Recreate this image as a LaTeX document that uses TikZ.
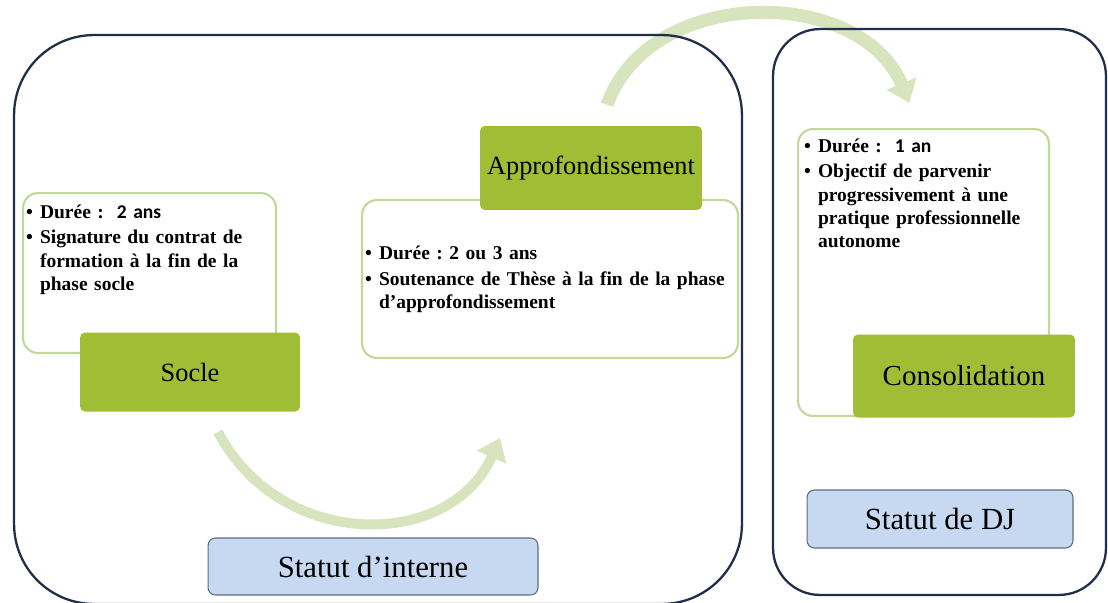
\documentclass[tikz,border=0pt]{standalone}
\usepackage{fontspec}
\setmainfont{Liberation Serif}
\newfontfamily\calibrifont{Carlito}
\usetikzlibrary{arrows.meta,backgrounds}
\definecolor{panelline}{HTML}{1F2E4A}
\definecolor{infoline}{HTML}{C4D79B}
\definecolor{phasegreen}{HTML}{9FBE36}
\definecolor{statutfill}{HTML}{C6D9F1}
\definecolor{statutline}{HTML}{5B6C87}
\definecolor{flowgreen}{HTML}{D7E4BD}
\newcommand{\puce}[1]{\leftskip=0.28cm\parskip=1.5pt\noindent\llap{\makebox[0.28cm][l]{\textbullet}}#1\par}
\frenchspacing
\tikzset{
  panel/.style={draw=panelline,line width=1.3pt,rounded corners=#1},
  infobox/.style={
    draw=infoline,line width=1.2pt,fill=white,rounded corners=0.3cm,
    align=left,inner xsep=0.06cm,inner ysep=0.2cm,
    font=\fontsize{11.1}{13.2}\selectfont\bfseries
  },
  phase/.style={fill=phasegreen,rounded corners=0.1cm,font=\fontsize{15}{18}\selectfont},
  statut/.style={draw=statutline,fill=statutfill,line width=0.6pt,rounded corners=0.15cm,
    font=\fontsize{17.5}{21}\selectfont},
  flow/.style={color=flowgreen,line width=0.22cm,-{Triangle[width=0.62cm,length=0.42cm]}}
}
\begin{document}
\begin{tikzpicture}[x=0.02cm,y=-0.02cm]
  \useasboundingbox (0,0) rectangle (1108,602);
  % deux statuts
  \node[panel=1.6cm,minimum width=14.56cm,minimum height=11.38cm] (panelinterne) at (378,319.5) {};
  \node[panel=0.94cm,minimum width=6.66cm,minimum height=11.32cm] (paneldj) at (939.5,312) {};
  % phases
  \node[infobox,anchor=north west,text width=4.94cm,text height=0.3cm,text depth=2.5cm] (infosocle) at (22,192)
    {\puce{Durée :\ \ {\calibrifont 2 ans}}
     \puce{Signature du contrat de\newline formation à la fin de la\newline phase socle}};
  \node[infobox,text width=7.4cm,minimum width=7.52cm,minimum height=3.16cm] (infoapprof) at (550,279)
    {\puce{Durée : 2 ou 3 ans}
     \puce{Soutenance de Thèse à la fin de la phase\newline d'approfondissement}};
  \node[infobox,anchor=north west,inner xsep=0.12cm,inner ysep=0.16cm,text width=4.78cm,text height=0.3cm,text depth=5.12cm] (infoconso) at (797,128)
    {\puce{Durée :\ \ {\calibrifont 1 an}}
     \puce{Objectif de parvenir\newline progressivement à une\newline pratique professionnelle\newline autonome}};
  \node[phase,minimum width=4.4cm,minimum height=1.58cm] (socle) at (190,372) {Socle};
  \node[phase,minimum width=4.44cm,minimum height=1.68cm] (approf) at (591,168) {Approfondissement};
  \node[phase,minimum width=4.44cm,minimum height=1.66cm,font=\fontsize{16.5}{19}\selectfont] (conso) at (964,376) {Consolidation};
  \node[statut,minimum width=6.6cm,minimum height=1.14cm] (statutinterne) at (373,566.5) {Statut d'interne};
  \node[statut,minimum width=5.32cm,minimum height=1.16cm] (statutdj) at (940,519) {Statut de DJ};
  % fleches
  \coordinate (cible) at (500,438);
  \begin{scope}[on background layer]
    \draw[flow,line width=0.2cm] ([shift={(28,20)}]socle.south) .. controls (280,551) and (450,551) .. (cible);
    \draw[flow,line width=0.26cm] ([shift={(16,-21)}]approf.north) .. controls (650,-15) and (860,-15) .. ([shift={(-14,-25)}]infoconso.north);
  \end{scope}
\end{tikzpicture}
\end{document}
